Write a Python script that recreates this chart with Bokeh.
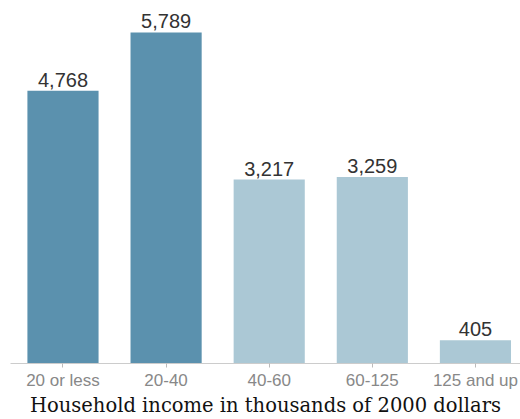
from bokeh.plotting import figure
from bokeh.models import ColumnDataSource, Range1d, FixedTicker
from bokeh.embed import file_html
from bokeh.resources import INLINE

categories = ["20 or less", "20-40", "40-60", "60-125", "125 and up"]
values = [4768, 5789, 3217, 3259, 405]
labels = ["4,768", "5,789", "3,217", "3,259", "405"]
bar_colors = ["#5b91ae", "#5b91ae", "#abc8d5", "#abc8d5", "#abc8d5"]
x_title = "Household income in thousands of 2000 dollars"

xs = list(range(len(categories)))
src = ColumnDataSource(dict(x=xs, top=values, label=labels, color=bar_colors))

p = figure(width=520, height=419, output_backend="svg", toolbar_location=None,
           x_range=Range1d(-0.509, 4.437), y_range=Range1d(0, 6347),
           min_border_left=10, min_border_right=0, min_border_top=0, min_border_bottom=55)
p.outline_line_color = None
p.grid.visible = False
p.yaxis.visible = False
p.background_fill_color = "white"
p.border_fill_color = "white"

p.vbar(x="x", top="top", width=0.69, bottom=0, fill_color="color", line_color=None, source=src)
p.text(x="x", y="top", text="label", source=src, text_align="center",
       text_baseline="bottom", y_offset=-4, text_font_size="20px",
       text_font={"value": "Liberation Sans"}, text_color="#333333")

ax = p.xaxis[0]
ax.ticker = FixedTicker(ticks=xs)
ax.major_label_overrides = {i: c for i, c in zip(xs, categories)}
ax.minor_tick_line_color = None
ax.major_tick_in = 0
ax.major_tick_out = 4
ax.major_tick_line_color = "#bbbbbb"
ax.axis_line_color = "#cccccc"
ax.major_label_text_font = "Liberation Sans"
ax.major_label_text_font_size = "17px"
ax.major_label_text_color = "#888888"
ax.major_label_standoff = 3
ax.axis_label = x_title
ax.axis_label_text_font = "DejaVu Serif"
ax.axis_label_text_font_style = "normal"
ax.axis_label_text_font_size = "19.5px"
ax.axis_label_text_color = "#111111"
ax.axis_label_standoff = 1

open("out.html", "w").write(file_html(p, INLINE))
